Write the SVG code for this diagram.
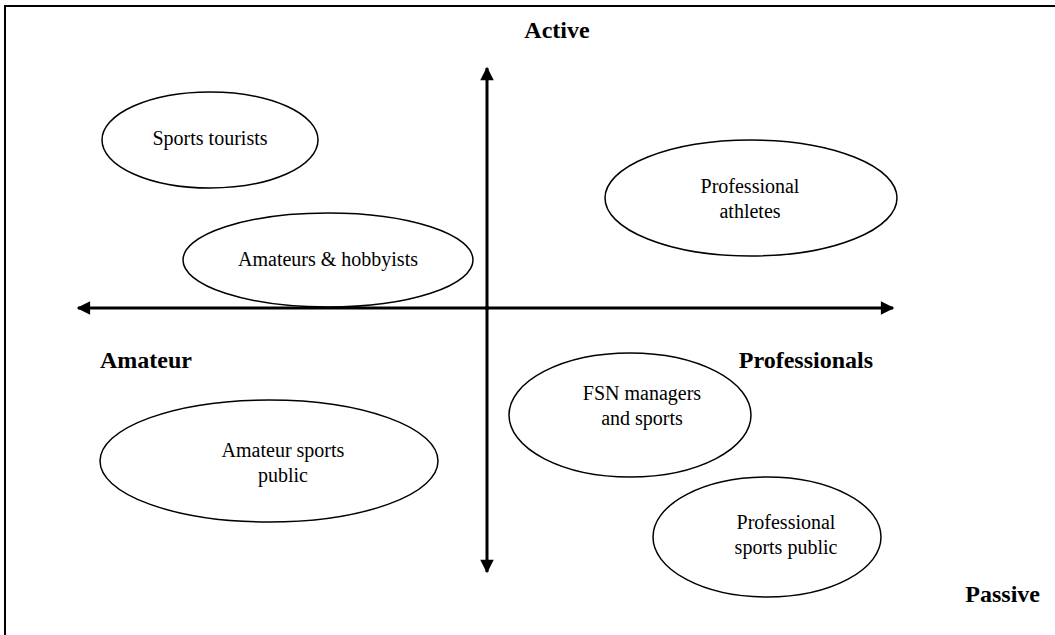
<svg xmlns="http://www.w3.org/2000/svg" width="1055" height="635" viewBox="0 0 1055 635">
<defs>
<style>
.lbl{font-family:"Liberation Serif",serif;font-size:24px;font-weight:bold;fill:#000}
.t{font-family:"Liberation Serif",serif;font-size:20px;fill:#000;text-anchor:middle}
.e{fill:none;stroke:#000;stroke-width:1.5}
.ax{stroke:#000;stroke-width:3;fill:none}
</style>
<marker id="ah" viewBox="0 0 10 10" refX="9" refY="5" markerWidth="5" markerHeight="4.5" orient="auto" markerUnits="strokeWidth">
<path d="M0,0 L10,5 L0,10 Z" fill="#000"/>
</marker>
</defs>
<rect x="0" y="0" width="1055" height="635" fill="#fff"/>
<rect x="5" y="6" width="1070" height="650" fill="none" stroke="#000" stroke-width="2"/>
<g id="connectors">
<line class="ax" x1="487" y1="310" x2="487" y2="68" marker-end="url(#ah)"/>
<line class="ax" x1="487" y1="306" x2="487" y2="572" marker-end="url(#ah)"/>
<line class="ax" x1="487" y1="308" x2="78" y2="308" marker-end="url(#ah)"/>
<line class="ax" x1="487" y1="308" x2="893" y2="308" marker-end="url(#ah)"/>
</g>
<g id="label-active"><text class="lbl" x="557" y="38" text-anchor="middle">Active</text></g>
<g id="label-amateur"><text class="lbl" x="100" y="368">Amateur</text></g>
<g id="label-professionals"><text class="lbl" x="873" y="368" text-anchor="end">Professionals</text></g>
<g id="label-passive"><text class="lbl" x="1040" y="602" text-anchor="end">Passive</text></g>
<g id="sports-tourists">
<ellipse class="e" cx="210" cy="140" rx="108" ry="48" stroke-width="2.2"/>
<text class="t" x="210" y="145">Sports tourists</text>
</g>
<g id="amateurs-hobbyists">
<ellipse class="e" cx="328" cy="260" rx="145" ry="47"/>
<text class="t" x="328" y="266">Amateurs &amp; hobbyists</text>
</g>
<g id="professional-athletes">
<ellipse class="e" cx="751" cy="198" rx="146" ry="58"/>
<text class="t" x="750" y="193">Professional</text>
<text class="t" x="750" y="218">athletes</text>
</g>
<g id="fsn-managers">
<ellipse class="e" cx="630" cy="415" rx="121" ry="62"/>
<text class="t" x="642" y="400">FSN managers</text>
<text class="t" x="642" y="425">and sports</text>
</g>
<g id="amateur-sports-public">
<ellipse class="e" cx="269" cy="461" rx="169" ry="61"/>
<text class="t" x="283" y="457">Amateur sports</text>
<text class="t" x="283" y="482">public</text>
</g>
<g id="professional-sports-public">
<ellipse class="e" cx="767" cy="537" rx="114" ry="60"/>
<text class="t" x="786" y="529">Professional</text>
<text class="t" x="786" y="554">sports public</text>
</g>
</svg>
